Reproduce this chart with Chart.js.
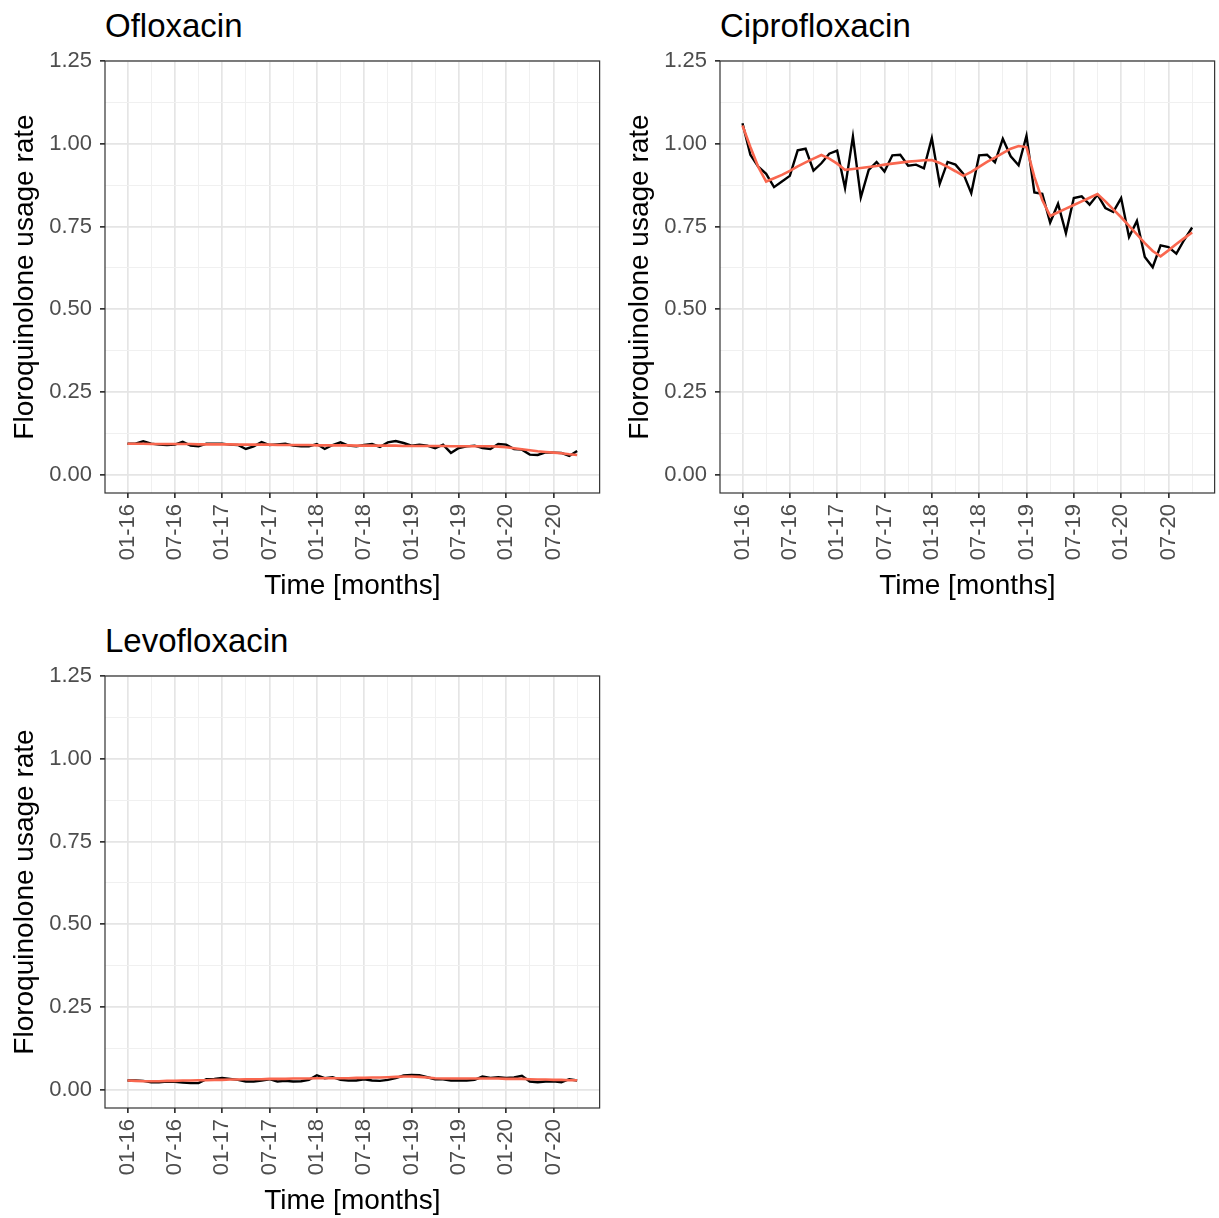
<!DOCTYPE html>
<html>
<head>
<meta charset="utf-8">
<script src="https://cdn.jsdelivr.net/npm/chart.js@4.4.0/dist/chart.umd.min.js"></script>
<style>
  body { margin: 0; background: #fff; font-family: "Liberation Sans", Arial, sans-serif; overflow: hidden; }
  .panel { position: absolute; width: 610px; height: 605px; }
  .panel canvas { position: absolute; left: 0; top: 0; }
  .panel .title { position: absolute; left: 105px; top: 9px; font-size: 33px; line-height: 1; color: #000; }
</style>
</head>
<body>
<div class="panel" style="left:0;top:0"><div class="title">Ofloxacin</div><canvas id="oflo" width="610" height="605"></canvas></div>
<div class="panel" style="left:615px;top:0"><div class="title">Ciprofloxacin</div><canvas id="cipro" width="610" height="605"></canvas></div>
<div class="panel" style="left:0;top:615px"><div class="title">Levofloxacin</div><canvas id="levo" width="610" height="605"></canvas></div>
<script>
// months since 01-2016 where labelled ticks sit
const tickMonths = [0, 6, 12, 18, 24, 30, 36, 42, 48, 54];
const tickLabels = ['01-16', '07-16', '01-17', '07-17', '01-18', '07-18', '01-19', '07-19', '01-20', '07-20'];

// monthly usage rate, 01-16 .. 10-20
const ofloRate = [
  0.094, 0.094, 0.101, 0.094, 0.091, 0.090, 0.091, 0.100, 0.088, 0.086,
  0.094, 0.094, 0.094, 0.091, 0.090, 0.078, 0.086, 0.099, 0.090, 0.092,
  0.094, 0.088, 0.086, 0.086, 0.093, 0.078, 0.090, 0.098, 0.088, 0.086,
  0.090, 0.093, 0.084, 0.098, 0.102, 0.096, 0.088, 0.091, 0.088, 0.080,
  0.091, 0.066, 0.081, 0.086, 0.088, 0.081, 0.078, 0.093, 0.091, 0.078,
  0.076, 0.061, 0.060, 0.068, 0.067, 0.066, 0.057, 0.072
];
const ofloTrend = [
  0.094, 0.094, 0.094, 0.093, 0.093, 0.093, 0.093, 0.093, 0.093, 0.092,
  0.092, 0.092, 0.092, 0.092, 0.091, 0.091, 0.091, 0.091, 0.091, 0.090,
  0.090, 0.090, 0.090, 0.090, 0.089, 0.089, 0.089, 0.089, 0.089, 0.088,
  0.088, 0.088, 0.088, 0.088, 0.088, 0.087, 0.087, 0.087, 0.087, 0.087,
  0.087, 0.086, 0.086, 0.086, 0.086, 0.086, 0.086, 0.085, 0.083, 0.080,
  0.077, 0.074, 0.071, 0.069, 0.067, 0.065, 0.062, 0.060
];
const ciproRate = [
  1.062, 0.967, 0.931, 0.909, 0.869, 0.886, 0.903, 0.980, 0.985, 0.919,
  0.941, 0.970, 0.979, 0.866, 1.022, 0.838, 0.921, 0.945, 0.916, 0.965,
  0.967, 0.934, 0.937, 0.926, 1.017, 0.879, 0.945, 0.937, 0.909, 0.851,
  0.965, 0.967, 0.944, 1.015, 0.962, 0.935, 1.024, 0.853, 0.849, 0.762,
  0.819, 0.730, 0.836, 0.841, 0.816, 0.846, 0.806, 0.794, 0.836, 0.718,
  0.767, 0.658, 0.627, 0.693, 0.688, 0.668, 0.710, 0.747
];
const ciproTrend = [
  1.055, 0.990, 0.930, 0.886, 0.896, 0.906, 0.918, 0.932, 0.944, 0.955,
  0.966, 0.955, 0.940, 0.921, 0.924, 0.927, 0.930, 0.933, 0.937, 0.940,
  0.943, 0.946, 0.948, 0.950, 0.951, 0.942, 0.930, 0.917, 0.903, 0.915,
  0.930, 0.945, 0.958, 0.972, 0.985, 0.993, 0.990, 0.900, 0.830, 0.782,
  0.793, 0.804, 0.815, 0.826, 0.837, 0.848, 0.826, 0.802, 0.778, 0.752,
  0.726, 0.700, 0.676, 0.660, 0.678, 0.697, 0.715, 0.732
];
const levoRate = [
  0.028, 0.028, 0.027, 0.023, 0.023, 0.025, 0.024, 0.022, 0.020, 0.020,
  0.032, 0.033, 0.036, 0.033, 0.030, 0.025, 0.025, 0.028, 0.032, 0.025,
  0.027, 0.025, 0.026, 0.030, 0.044, 0.035, 0.038, 0.030, 0.028, 0.028,
  0.032, 0.028, 0.027, 0.030, 0.035, 0.043, 0.045, 0.044, 0.038, 0.032,
  0.032, 0.028, 0.028, 0.028, 0.030, 0.040, 0.036, 0.038, 0.036, 0.037,
  0.042, 0.025, 0.023, 0.025, 0.026, 0.023, 0.032, 0.028
];
const levoTrend = [
  0.028, 0.027, 0.026, 0.026, 0.026, 0.027, 0.027, 0.028, 0.028, 0.029,
  0.029, 0.030, 0.030, 0.031, 0.031, 0.032, 0.032, 0.032, 0.033, 0.033,
  0.033, 0.034, 0.034, 0.034, 0.035, 0.035, 0.035, 0.035, 0.035, 0.036,
  0.036, 0.037, 0.037, 0.038, 0.039, 0.040, 0.040, 0.039, 0.037, 0.035,
  0.034, 0.034, 0.034, 0.034, 0.034, 0.034, 0.034, 0.034, 0.033, 0.033,
  0.033, 0.032, 0.031, 0.031, 0.030, 0.030, 0.029, 0.029
];

const yBreaks = [0, 0.125, 0.25, 0.375, 0.5, 0.625, 0.75, 0.875, 1, 1.125, 1.25];
const xBreaks = [];
for (let m = 0; m <= 57; m += 3) xBreaks.push(m);

const FONT = '"Liberation Sans", Arial, sans-serif';

// draws the full panel box on top, like theme_bw
const panelBorder = {
  id: 'panelBorder',
  afterDatasetsDraw(chart) {
    const a = chart.chartArea, c = chart.ctx;
    c.save();
    c.strokeStyle = '#333333';
    c.lineWidth = 1.2;
    c.strokeRect(a.left, a.top, a.right - a.left, a.bottom - a.top);
    c.restore();
  }
};

const isMajorX = v => v % 6 === 0;
const isMajorY = v => Math.abs(v * 4 - Math.round(v * 4)) < 1e-6;

function toPoints(arr) {
  return arr.map((v, i) => ({ x: i, y: v }));
}

function gridOpts(isMajor) {
  return {
    color: c => isMajor(c.tick.value) ? '#e5e5e5' : '#f0f0f0',
    lineWidth: c => isMajor(c.tick.value) ? 1.7 : 1,
    tickColor: c => isMajor(c.tick.value) ? '#333333' : 'rgba(0,0,0,0)',
    tickLength: 5,
    drawTicks: true
  };
}

function makeChart(id, rate, trend) {
  const ctx = document.getElementById(id).getContext('2d');
  return new Chart(ctx, {
    type: 'line',
    data: {
      datasets: [
        { label: 'trend', data: toPoints(trend), borderColor: '#f9674f', borderWidth: 2.6, pointRadius: 0, tension: 0 },
        { label: 'rate', data: toPoints(rate), borderColor: '#000000', borderWidth: 2.4, pointRadius: 0, tension: 0 }
      ]
    },
    options: {
      responsive: false,
      animation: false,
      devicePixelRatio: 1,
      layout: { padding: { top: 61, left: 6, right: 10, bottom: 0 } },
      plugins: { legend: { display: false }, tooltip: { enabled: false } },
      scales: {
        x: {
          type: 'linear',
          min: -2.85,
          max: 59.85,
          afterBuildTicks: s => { s.ticks = xBreaks.map(v => ({ value: v })); },
          afterFit: s => { s.height = 112; },
          border: { display: false },
          grid: gridOpts(isMajorX),
          ticks: {
            autoSkip: false,
            minRotation: 90,
            maxRotation: 90,
            padding: 6,
            color: '#4d4d4d',
            font: { family: FONT, size: 22 },
            callback: v => {
              const k = tickMonths.indexOf(v);
              return k >= 0 ? tickLabels[k] : '';
            }
          },
          title: {
            display: true,
            text: 'Time [months]',
            color: '#000',
            font: { family: FONT, size: 28 },
            padding: { top: 2, bottom: 2 }
          }
        },
        y: {
          min: -0.055,
          max: 1.25,
          afterBuildTicks: s => { s.ticks = yBreaks.map(v => ({ value: v })); },
          afterFit: s => { s.width = 99; },
          border: { display: false },
          grid: gridOpts(isMajorY),
          ticks: {
            autoSkip: false,
            padding: 8,
            color: '#4d4d4d',
            font: { family: FONT, size: 22 },
            callback: v => isMajorY(v) ? v.toFixed(2) : ''
          },
          title: {
            display: true,
            text: 'Floroquinolone usage rate',
            color: '#000',
            font: { family: FONT, size: 28 },
            padding: { top: 2, bottom: 2 }
          }
        }
      }
    },
    plugins: [panelBorder]
  });
}

makeChart('oflo', ofloRate, ofloTrend);
makeChart('cipro', ciproRate, ciproTrend);
makeChart('levo', levoRate, levoTrend);
</script>
</body>
</html>
